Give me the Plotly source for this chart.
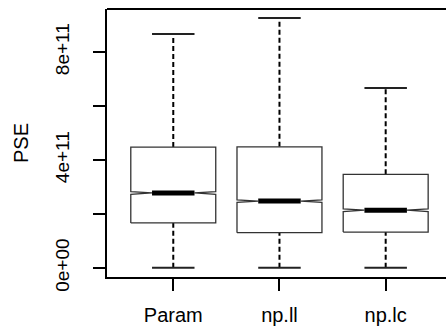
import plotly.graph_objects as go

categories = ["Param", "np.ll", "np.lc"]
lower_whisker = [1.0e9, 1.0e9, 1.0e9]
q1 = [1.67e11, 1.31e11, 1.33e11]
median = [2.78e11, 2.48e11, 2.14e11]
q3 = [4.48e11, 4.49e11, 3.47e11]
upper_whisker = [8.67e11, 9.26e11, 6.67e11]
notch_half = [5.0e9, 4.5e9, 5.0e9]

y_tickvals = [0, 2e11, 4e11, 6e11, 8e11]
y_ticktext = ["0e+00", "", "4e+11", "", "8e+11"]

FONT = "Liberation Sans, Arial, sans-serif"
BOX_HALF = 0.4
NOTCH_HALF_W = 0.2
CAP_HALF = 0.2

fig = go.Figure()
positions = list(range(1, len(categories) + 1))

for i, c in enumerate(positions):
    # dashed whiskers
    for a, b in [(q3[i], upper_whisker[i]), (lower_whisker[i], q1[i])]:
        fig.add_trace(go.Scatter(x=[c, c], y=[a, b], mode="lines",
                                 line=dict(color="black", width=2, dash="5px,3px"),
                                 hoverinfo="skip", showlegend=False))
    # caps
    for v in [upper_whisker[i], lower_whisker[i]]:
        fig.add_trace(go.Scatter(x=[c - CAP_HALF, c + CAP_HALF], y=[v, v], mode="lines",
                                 line=dict(color="#222", width=2),
                                 hoverinfo="skip", showlegend=False))
    # notched box
    w, nw, n, m = BOX_HALF, NOTCH_HALF_W, notch_half[i], median[i]
    xs = [c - w, c - w, c - nw, c - w, c - w, c + w, c + w, c + nw, c + w, c + w, c - w]
    ys = [q1[i], m - n, m, m + n, q3[i], q3[i], m + n, m, m - n, q1[i], q1[i]]
    fig.add_trace(go.Scatter(x=xs, y=ys, mode="lines", fill="toself", fillcolor="white",
                             line=dict(color="#333", width=1.3),
                             hoverinfo="skip", showlegend=False))
    # thick median
    fig.add_trace(go.Scatter(x=[c - nw, c + nw], y=[m, m], mode="lines",
                             line=dict(color="black", width=5),
                             hoverinfo="skip", showlegend=False))

fig.update_layout(
    width=446, height=331,
    margin=dict(l=107, r=0, t=9, b=54, pad=0),
    paper_bgcolor="white", plot_bgcolor="white",
    font=dict(family=FONT, size=20, color="black"),
    showlegend=False,
    xaxis=dict(range=[0.376, 3.568], tickvals=positions, ticktext=categories,
               showgrid=False, zeroline=False, showline=True, linecolor="black",
               linewidth=2, ticks="outside", ticklen=12, tickwidth=2, tickcolor="black",
               ticklabelstandoff=7,
               tickfont=dict(family=FONT, size=20), fixedrange=True),
    yaxis=dict(range=[-3.333e10, 9.593e11], tickvals=y_tickvals, ticktext=y_ticktext,
               showgrid=False, zeroline=False, showline=True, linecolor="black",
               linewidth=2, ticks="outside", ticklen=12, tickwidth=2, tickcolor="black",
               tickangle=-90, tickfont=dict(family=FONT, size=19),
               ticklabelstandoff=16,
               title=dict(text="PSE", font=dict(family=FONT, size=20), standoff=18),
               fixedrange=True),
    shapes=[dict(type="line", xref="paper", yref="paper", x0=0, x1=1, y0=1, y1=1,
                 line=dict(color="black", width=2))],
)

fig.write_html("out.html")
